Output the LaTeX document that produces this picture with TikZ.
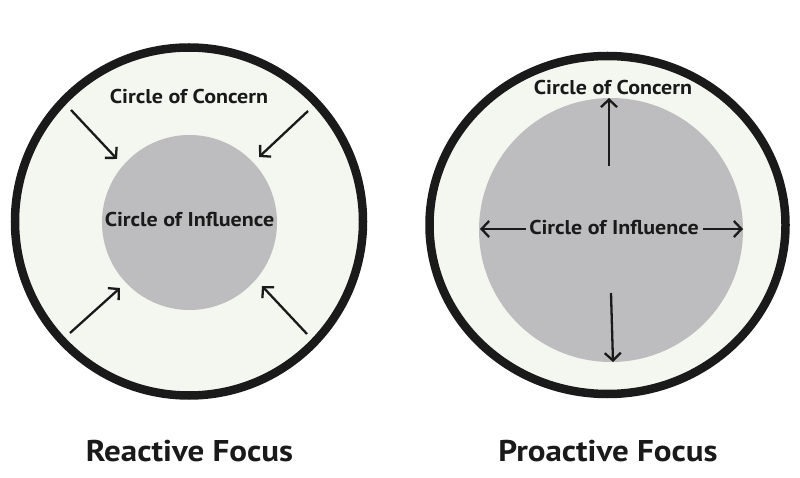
\documentclass[tikz,border=0pt]{standalone}
\usepackage{fontspec}
\setmainfont{PT Sans}[FakeStretch=1.1]
\usetikzlibrary{arrows.meta}
\definecolor{concernfill}{HTML}{F4F6F0}
\definecolor{influencefill}{HTML}{BDBDBF}
\definecolor{inkdark}{HTML}{1A1A1A}
\tikzset{
  concern/.style={draw=inkdark, line width=8.5pt, fill=concernfill},
  influence/.style={fill=influencefill, draw=none},
  lbl/.style={font=\bfseries\fontsize{20}{22}\selectfont, text=inkdark, inner sep=0pt},
  title/.style={font=\bfseries\fontsize{30}{34}\selectfont, text=inkdark, inner sep=0pt},
  arr/.style={draw=inkdark, line width=2.3pt, -{Straight Barb[length=7.5pt,width=16pt,line width=2.3pt]}}
}
\begin{document}
\begin{tikzpicture}[x=1pt,y=-1pt]
\useasboundingbox (0,0) rectangle (800,478);
% left panel
\path[concern] (189,221.5) circle (174);
\node[influence, circle, minimum size=175pt, inner sep=0pt] (inL) at (189.5,222.5) {};
\node[lbl] (concernL) at (189,97) {Circle of Concern};
\node[lbl] (influenceL) at (189.5,220) {Circle of Influence};
\coordinate (a1s) at (71,110);  \coordinate (a1e) at (117,159);
\coordinate (a2s) at (308,111); \coordinate (a2e) at (259,157);
\coordinate (a3s) at (70,333);  \coordinate (a3e) at (120,288);
\coordinate (a4s) at (307,334); \coordinate (a4e) at (262,286);
\draw[arr] (a1s) -- (a1e);
\draw[arr] (a2s) -- (a2e);
\draw[arr] (a3s) -- (a3e);
\draw[arr] (a4s) -- (a4e);
\node[title] (reactive) at (189.5,451) {Reactive Focus};
% right panel
\path[concern] (607.5,225) ellipse (178 and 169);
\node[influence, circle, minimum size=264pt, inner sep=0pt] (inR) at (611,230) {};
\node[lbl] (concernR) at (613,88) {Circle of Concern};
\node[lbl] (influenceR) at (614,228) {Circle of Influence};
\coordinate (b1s) at (609,166); \coordinate (b1e) at (609,98);
\coordinate (b2s) at (526,229); \coordinate (b2e) at (480,229);
\coordinate (b3s) at (703,229); \coordinate (b3e) at (743,229);
\coordinate (b4s) at (611,293); \coordinate (b4e) at (613,362);
\draw[arr] (b1s) -- (b1e);
\draw[arr] (b2s) -- (b2e);
\draw[arr] (b3s) -- (b3e);
\draw[arr] (b4s) -- (b4e);
\node[title] (proactive) at (608,451) {Proactive Focus};
\end{tikzpicture}
\end{document}
